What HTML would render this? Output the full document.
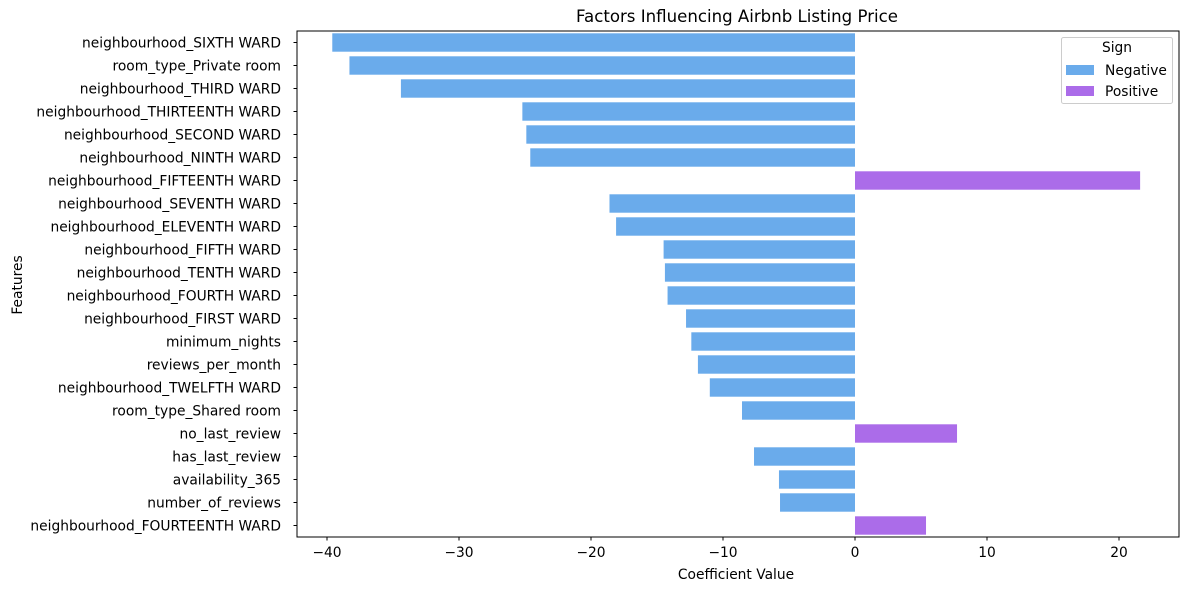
<!DOCTYPE html>
<html><head><meta charset="utf-8"><style>
body{margin:0;background:#fff;}
svg text{font-family:"DejaVu Sans","Liberation Sans",sans-serif;fill:#000;}
</style></head><body>
<svg id="chart" width="1189" height="590" xmlns="http://www.w3.org/2000/svg">
<text x="737" y="22" font-size="16.6" text-anchor="middle">Factors Influencing Airbnb Listing Price</text>
<text x="736" y="579" font-size="13.8" text-anchor="middle">Coefficient Value</text>
<text transform="translate(22,285) rotate(-90)" font-size="13.8" text-anchor="middle">Features</text>
<g id="bars"></g><g id="ylabels"></g><g id="xticks"></g>
<rect x="297" y="31" width="882" height="506" fill="none" stroke="#000" stroke-width="1"/>
<g>
<rect x="1061.5" y="37.5" width="111" height="66" rx="2" fill="#fff" stroke="#ccc"/>
<text x="1117" y="52" font-size="13.8" text-anchor="middle">Sign</text>
<rect x="1066" y="65" width="28" height="10" fill="#6aabeb"/>
<text x="1105" y="75" font-size="13.8">Negative</text>
<rect x="1066" y="86" width="28" height="10" fill="#ab6ce9"/>
<text x="1105" y="96" font-size="13.8">Positive</text>
</g>
</svg>
<script>
const features=["neighbourhood_SIXTH WARD","room_type_Private room","neighbourhood_THIRD WARD","neighbourhood_THIRTEENTH WARD","neighbourhood_SECOND WARD","neighbourhood_NINTH WARD","neighbourhood_FIFTEENTH WARD","neighbourhood_SEVENTH WARD","neighbourhood_ELEVENTH WARD","neighbourhood_FIFTH WARD","neighbourhood_TENTH WARD","neighbourhood_FOURTH WARD","neighbourhood_FIRST WARD","minimum_nights","reviews_per_month","neighbourhood_TWELFTH WARD","room_type_Shared room","no_last_review","has_last_review","availability_365","number_of_reviews","neighbourhood_FOURTEENTH WARD"];
const coefficients=[-39.6,-38.3,-34.4,-25.2,-24.9,-24.6,21.6,-18.6,-18.1,-14.5,-14.4,-14.2,-12.8,-12.4,-11.9,-11.0,-8.56,7.73,-7.65,-5.76,-5.68,5.38];
const xTicks=[-40,-30,-20,-10,0,10,20];
{
const NS="http://www.w3.org/2000/svg";
const x0=855,ppu=13.2,plotTop=31,rowH=23,barH=18.4;
const xs=v=>x0+v*ppu;
const ys=i=>plotTop+rowH*(i+0.5);
const bars=document.getElementById('bars'),yl=document.getElementById('ylabels'),xt=document.getElementById('xticks');
function mk(t,a){const e=document.createElementNS(NS,t);for(const k in a)e.setAttribute(k,a[k]);return e;}
features.forEach((f,i)=>{
 const v=coefficients[i];
 const r=mk('rect',{x:Math.min(xs(0),xs(v)),y:ys(i)-barH/2,width:Math.abs(xs(v)-xs(0)),height:barH,fill:v<0?'#6aabeb':'#ab6ce9'});
 
 
 bars.appendChild(r);
 const tk=mk('line',{x1:293.5,x2:297,y1:ys(i),y2:ys(i),stroke:'#000'});
 
 
 yl.appendChild(tk);
 const t=mk('text',{x:281,y:ys(i)+5,'font-size':13.8,'text-anchor':'end'});
 t.textContent=f;
 
 
 yl.appendChild(t);
});
xTicks.forEach(v=>{
 const tk=mk('line',{x1:xs(v),x2:xs(v),y1:537,y2:540.5,stroke:'#000'});
 
 
 xt.appendChild(tk);
 const t=mk('text',{x:xs(v),y:557,'font-size':13.8,'text-anchor':'middle'});
 t.textContent=v<0?'\u2212'+(-v):String(v);
 
 
 xt.appendChild(t);
});
}
</script>
</body></html>
